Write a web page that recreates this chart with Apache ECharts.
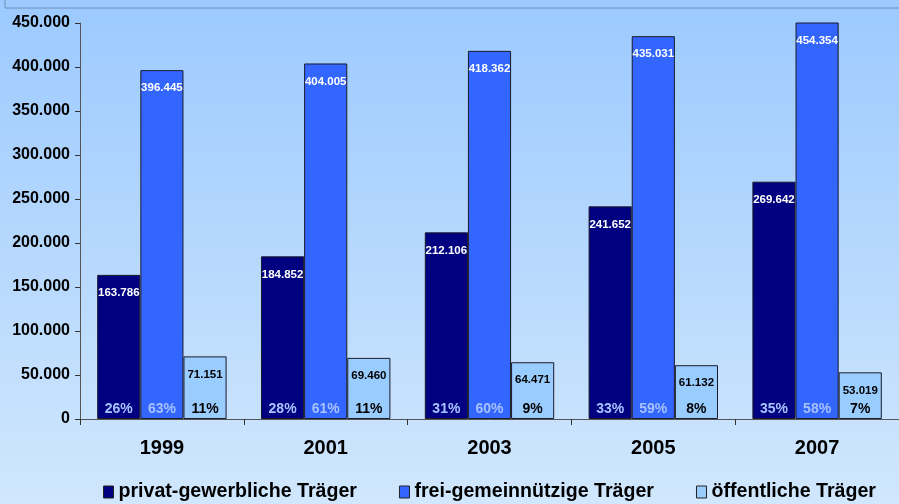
<!DOCTYPE html>
<html><head><meta charset="utf-8">
<script src="https://cdn.jsdelivr.net/npm/echarts@6/dist/echarts.min.js"></script>
<style>html,body{margin:0;padding:0;}#c{width:899px;height:504px;}</style>
</head><body><div id="c"></div>
<script>
const years = ['1999','2001','2003','2005','2007'];
const seriesNames = ['privat-gewerbliche Träger','frei-gemeinnützige Träger','öffentliche Träger'];
const privat = [163786,184852,212106,241652,269642];
const frei = [396445,404005,418362,435031,454354];
const oeff = [71151,69460,64471,61132,53019];
const pctPrivat = [26,28,31,33,35];
const pctFrei = [63,61,60,59,58];
const pctOeff = [11,11,9,8,7];
const yTicks = [0,50000,100000,150000,200000,250000,300000,350000,400000,450000];

const colors = ['#000080','#3366ff','#99ccff'];
const valLabelColors = ['#ffffff','#ffffff','#000000'];
const pctColors = ['#a8c4ff','#a6c2ff','#000000'];
const fmt = v => v.toLocaleString('de-DE');
const FONT = 'Liberation Sans, Arial, sans-serif';

const vals = [privat, frei, oeff];
const pcts = [pctPrivat, pctFrei, pctOeff];

const series = [];
vals.forEach((d,i)=>{
  series.push({
    name: seriesNames[i], type:'bar', data:d, xAxisIndex:0,
    barGap:'0%', barCategoryGap:'21%',
    itemStyle:{color:colors[i], borderColor:'#1a1a2a', borderWidth:1},
    label:{show:true, position:'insideTop', distance:12, formatter:p=>fmt(p.value),
      color:valLabelColors[i], fontFamily:FONT, fontWeight:'bold', fontSize:11.5},
    z:2
  });
});
vals.forEach((d,i)=>{
  series.push({
    name:'pct'+i, type:'bar', data:d, xAxisIndex:1,
    barGap:'0%', barCategoryGap:'21%',
    itemStyle:{color:'rgba(0,0,0,0)'},
    label:{show:true, position:'insideBottom', distance:3,
      formatter:p=>pcts[i][p.dataIndex]+'%',
      color:pctColors[i], fontFamily:FONT, fontWeight:'bold', fontSize:14},
    silent:true, z:3, legendHoverLink:false
  });
});

const chart = echarts.init(document.getElementById('c'));
chart.setOption({
  animation:false,
  backgroundColor:{type:'linear',x:0,y:0,x2:0,y2:1,colorStops:[
    {offset:0,color:'#9ccaff'},{offset:0.5,color:'#b6d8fd'},{offset:1,color:'#d0e7fd'}]},
  graphic:[{type:'polyline',shape:{points:[[5,0],[5,8],[899,8]]},
    style:{stroke:'#6f8db3',lineWidth:1,fill:null}}],
  legend:{
    data:seriesNames, bottom:-3, left:98, itemGap:42,
    itemWidth:10, itemHeight:12, icon:'rect',
    itemStyle:{borderColor:'#222',borderWidth:1},
    textStyle:{fontFamily:FONT,fontWeight:'bold',fontSize:19.6,color:'#000'}
  },
  grid:{left:80, right:-6, top:23, bottom:85, containLabel:false},
  xAxis:[{
    type:'category', data:years,
    axisLine:{lineStyle:{color:'#555',width:1}},
    axisTick:{show:true, length:6, lineStyle:{color:'#333'}},
    axisLabel:{fontFamily:FONT,fontWeight:'bold',fontSize:20,color:'#000',margin:19}
  },{
    type:'category', data:years, show:false
  }],
  yAxis:{
    type:'value', min:0, max:450000, interval:50000,
    axisLine:{show:true,lineStyle:{color:'#555'}},
    axisTick:{show:true,inside:false,length:5,lineStyle:{color:'#333'}},
    splitLine:{show:false},
    axisLabel:{fontFamily:FONT,fontWeight:'bold',fontSize:16,color:'#000',margin:10,
      formatter:v=>yTicks.includes(v)?fmt(v):''}
  },
  series:series
});
</script></body></html>
